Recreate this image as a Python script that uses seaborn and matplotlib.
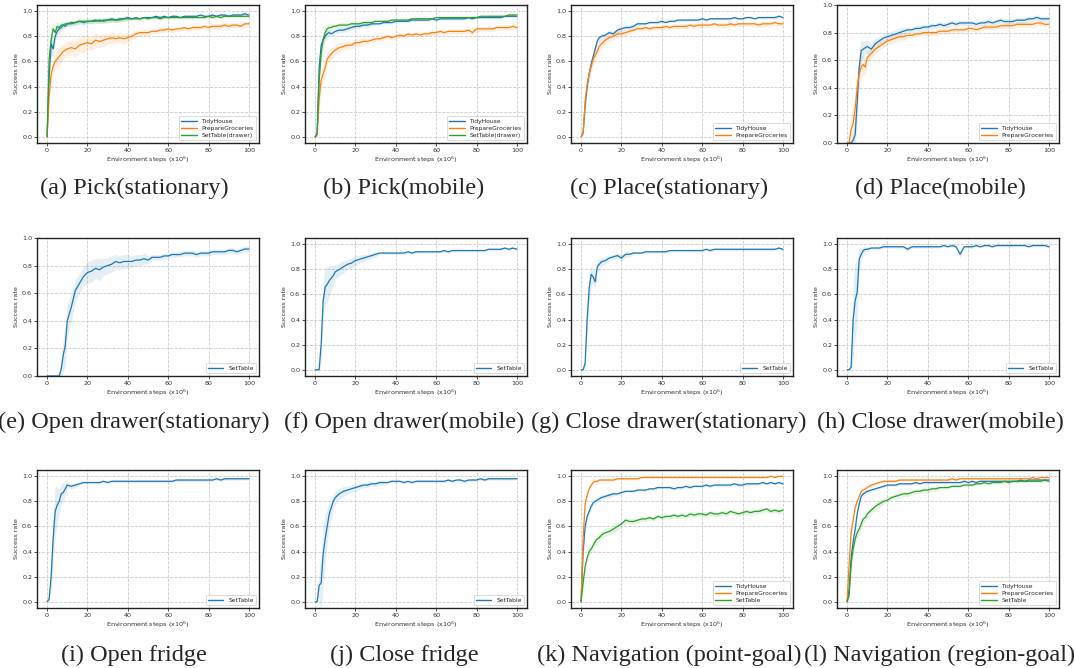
import pandas as pd
import seaborn as sns
import matplotlib.pyplot as plt

sns.set_theme(style="ticks")
plt.rcParams["font.family"] = ["DejaVu Sans"]

# x grid (environment steps, x10^6)
steps = [0, 1, 2, 3, 4, 5, 6, 7, 8, 9, 10,
         12, 14, 16, 18, 20, 22, 24, 26, 28, 30, 32, 34, 36, 38, 40,
         42, 44, 46, 48, 50, 52, 54, 56, 58, 60, 62, 64, 66, 68, 70,
         72, 74, 76, 78, 80, 82, 84, 86, 88, 90, 92, 94, 96, 98, 100]

# (a) Pick(stationary)
a_tidy = [0.00, 0.48, 0.74, 0.70, 0.80, 0.84, 0.86, 0.87, 0.89, 0.88, 0.90,
          0.90, 0.91, 0.92, 0.91, 0.92, 0.92, 0.93, 0.92, 0.93, 0.93, 0.94, 0.93, 0.94, 0.94, 0.95,
          0.94, 0.95, 0.94, 0.95, 0.95, 0.95, 0.96, 0.95, 0.96, 0.95, 0.96, 0.96, 0.95, 0.96, 0.96,
          0.96, 0.96, 0.97, 0.96, 0.96, 0.97, 0.96, 0.97, 0.97, 0.96, 0.97, 0.97, 0.97, 0.98, 0.97]
a_groc = [0.00, 0.32, 0.50, 0.56, 0.60, 0.62, 0.64, 0.66, 0.68, 0.69, 0.70,
          0.71, 0.70, 0.73, 0.74, 0.75, 0.74, 0.77, 0.76, 0.77, 0.78, 0.79, 0.78, 0.79, 0.78, 0.79,
          0.80, 0.82, 0.83, 0.83, 0.83, 0.84, 0.84, 0.85, 0.85, 0.86, 0.85, 0.86, 0.86, 0.87, 0.86,
          0.87, 0.87, 0.87, 0.88, 0.87, 0.88, 0.88, 0.88, 0.89, 0.88, 0.89, 0.89, 0.88, 0.90, 0.90]
a_set = [0.00, 0.62, 0.77, 0.86, 0.83, 0.88, 0.87, 0.89, 0.89, 0.90, 0.90,
         0.91, 0.91, 0.92, 0.92, 0.92, 0.92, 0.92, 0.93, 0.92, 0.93, 0.93, 0.93, 0.93, 0.94, 0.94,
         0.94, 0.94, 0.94, 0.95, 0.94, 0.95, 0.95, 0.94, 0.95, 0.95, 0.95, 0.95, 0.95, 0.95, 0.95,
         0.95, 0.95, 0.95, 0.95, 0.96, 0.95, 0.96, 0.95, 0.96, 0.96, 0.96, 0.96, 0.96, 0.96, 0.96]
a_tidy_band = [0.00, 0.12, 0.10, 0.06, 0.05, 0.04, 0.03, 0.03, 0.02, 0.02, 0.02,
               0.02, 0.02, 0.02, 0.02, 0.02, 0.02, 0.02, 0.02, 0.02, 0.02, 0.02, 0.02, 0.02, 0.02, 0.02,
               0.01, 0.01, 0.01, 0.01, 0.01, 0.01, 0.01, 0.01, 0.01, 0.01, 0.01, 0.01, 0.01, 0.01, 0.01,
               0.01, 0.01, 0.01, 0.01, 0.01, 0.01, 0.01, 0.01, 0.01, 0.01, 0.01, 0.01, 0.01, 0.01, 0.01]
a_groc_band = [0.00, 0.06, 0.06, 0.06, 0.07, 0.07, 0.07, 0.07, 0.06, 0.06, 0.06,
               0.06, 0.07, 0.06, 0.07, 0.06, 0.05, 0.06, 0.05, 0.05, 0.04, 0.05, 0.04, 0.04, 0.04, 0.04,
               0.03, 0.03, 0.03, 0.03, 0.02, 0.02, 0.02, 0.02, 0.02, 0.02, 0.02, 0.02, 0.02, 0.02, 0.02,
               0.02, 0.02, 0.02, 0.02, 0.02, 0.02, 0.02, 0.02, 0.02, 0.02, 0.02, 0.02, 0.02, 0.02, 0.02]
a_set_band = [0.00, 0.15, 0.10, 0.06, 0.05, 0.04, 0.03, 0.03, 0.03, 0.02, 0.02,
              0.02, 0.02, 0.02, 0.02, 0.02, 0.02, 0.02, 0.02, 0.02, 0.02, 0.02, 0.02, 0.02, 0.02, 0.02,
              0.01, 0.01, 0.01, 0.01, 0.01, 0.01, 0.01, 0.01, 0.01, 0.01, 0.01, 0.01, 0.01, 0.01, 0.01,
              0.01, 0.01, 0.01, 0.01, 0.01, 0.01, 0.01, 0.01, 0.01, 0.01, 0.01, 0.01, 0.01, 0.01, 0.01]

# (b) Pick(mobile)
b_tidy = [0.00, 0.02, 0.55, 0.73, 0.77, 0.80, 0.82, 0.83, 0.82, 0.83, 0.84,
          0.85, 0.85, 0.86, 0.87, 0.88, 0.88, 0.89, 0.89, 0.90, 0.90, 0.90, 0.91, 0.91, 0.91, 0.92,
          0.92, 0.92, 0.92, 0.93, 0.93, 0.93, 0.93, 0.93, 0.94, 0.93, 0.94, 0.94, 0.94, 0.94, 0.94,
          0.94, 0.94, 0.95, 0.94, 0.95, 0.95, 0.95, 0.95, 0.95, 0.95, 0.95, 0.96, 0.96, 0.96, 0.96]
b_groc = [0.00, 0.02, 0.30, 0.45, 0.50, 0.55, 0.62, 0.64, 0.66, 0.68, 0.69,
          0.71, 0.72, 0.73, 0.73, 0.75, 0.75, 0.76, 0.76, 0.77, 0.78, 0.78, 0.79, 0.80, 0.79, 0.80,
          0.81, 0.80, 0.82, 0.81, 0.82, 0.81, 0.82, 0.82, 0.83, 0.83, 0.84, 0.83, 0.84, 0.84, 0.84,
          0.84, 0.84, 0.85, 0.83, 0.86, 0.86, 0.86, 0.86, 0.86, 0.87, 0.87, 0.87, 0.87, 0.88, 0.87]
b_set = [0.00, 0.02, 0.45, 0.66, 0.78, 0.83, 0.86, 0.87, 0.87, 0.88, 0.88,
         0.89, 0.89, 0.89, 0.90, 0.90, 0.90, 0.91, 0.91, 0.91, 0.92, 0.92, 0.92, 0.92, 0.93, 0.93,
         0.93, 0.93, 0.93, 0.94, 0.94, 0.94, 0.94, 0.94, 0.94, 0.95, 0.95, 0.95, 0.95, 0.95, 0.95,
         0.95, 0.95, 0.95, 0.95, 0.95, 0.96, 0.96, 0.96, 0.96, 0.96, 0.96, 0.96, 0.97, 0.97, 0.97]
b_tidy_band = [0.00, 0.02, 0.10, 0.05, 0.04, 0.03, 0.03, 0.02, 0.02, 0.02, 0.02,
               0.02, 0.02, 0.02, 0.02, 0.02, 0.02, 0.02, 0.02, 0.02, 0.01, 0.01, 0.01, 0.01, 0.01, 0.01,
               0.01, 0.01, 0.01, 0.01, 0.01, 0.01, 0.01, 0.01, 0.01, 0.01, 0.01, 0.01, 0.01, 0.01, 0.01,
               0.01, 0.01, 0.01, 0.01, 0.01, 0.01, 0.01, 0.01, 0.01, 0.01, 0.01, 0.01, 0.01, 0.01, 0.01]
b_groc_band = [0.00, 0.02, 0.08, 0.07, 0.06, 0.06, 0.05, 0.05, 0.05, 0.04, 0.04,
               0.04, 0.03, 0.03, 0.03, 0.03, 0.03, 0.03, 0.02, 0.02, 0.02, 0.02, 0.02, 0.02, 0.02, 0.02,
               0.02, 0.02, 0.02, 0.02, 0.02, 0.02, 0.02, 0.02, 0.02, 0.02, 0.02, 0.02, 0.02, 0.02, 0.02,
               0.02, 0.02, 0.02, 0.02, 0.02, 0.02, 0.02, 0.02, 0.02, 0.02, 0.02, 0.02, 0.02, 0.02, 0.02]
b_set_band = [0.00, 0.02, 0.12, 0.08, 0.06, 0.05, 0.04, 0.03, 0.03, 0.02, 0.02,
              0.02, 0.02, 0.02, 0.02, 0.02, 0.02, 0.02, 0.02, 0.02, 0.01, 0.01, 0.01, 0.01, 0.01, 0.01,
              0.01, 0.01, 0.01, 0.01, 0.01, 0.01, 0.01, 0.01, 0.01, 0.01, 0.01, 0.01, 0.01, 0.01, 0.01,
              0.01, 0.01, 0.01, 0.01, 0.01, 0.01, 0.01, 0.01, 0.01, 0.01, 0.01, 0.01, 0.01, 0.01, 0.01]

# (c) Place(stationary)
c_tidy = [0.00, 0.03, 0.25, 0.40, 0.50, 0.58, 0.64, 0.70, 0.76, 0.79, 0.80,
          0.81, 0.83, 0.82, 0.85, 0.86, 0.87, 0.87, 0.88, 0.90, 0.90, 0.90, 0.91, 0.91, 0.91, 0.92,
          0.91, 0.92, 0.92, 0.93, 0.93, 0.93, 0.93, 0.93, 0.93, 0.94, 0.93, 0.94, 0.94, 0.94, 0.94,
          0.94, 0.94, 0.95, 0.94, 0.94, 0.95, 0.95, 0.94, 0.95, 0.95, 0.95, 0.95, 0.95, 0.96, 0.95]
c_groc = [0.00, 0.03, 0.28, 0.42, 0.50, 0.56, 0.62, 0.65, 0.68, 0.72, 0.74,
          0.77, 0.79, 0.80, 0.82, 0.82, 0.83, 0.84, 0.85, 0.86, 0.86, 0.87, 0.86, 0.87, 0.87, 0.87,
          0.88, 0.87, 0.88, 0.88, 0.88, 0.88, 0.89, 0.88, 0.89, 0.89, 0.89, 0.89, 0.90, 0.89, 0.89,
          0.89, 0.90, 0.89, 0.90, 0.90, 0.90, 0.90, 0.90, 0.89, 0.90, 0.90, 0.90, 0.91, 0.90, 0.90]
c_tidy_band = [0.00, 0.02, 0.04, 0.04, 0.04, 0.04, 0.04, 0.03, 0.03, 0.03, 0.02,
               0.02, 0.02, 0.02, 0.02, 0.02, 0.02, 0.02, 0.02, 0.02, 0.01, 0.01, 0.01, 0.01, 0.01, 0.01,
               0.01, 0.01, 0.01, 0.01, 0.01, 0.01, 0.01, 0.01, 0.01, 0.01, 0.01, 0.01, 0.01, 0.01, 0.01,
               0.01, 0.01, 0.01, 0.01, 0.01, 0.01, 0.01, 0.01, 0.01, 0.01, 0.01, 0.01, 0.01, 0.01, 0.01]
c_groc_band = [0.00, 0.02, 0.05, 0.06, 0.06, 0.06, 0.05, 0.05, 0.04, 0.04, 0.04,
               0.03, 0.03, 0.03, 0.03, 0.03, 0.02, 0.02, 0.02, 0.02, 0.02, 0.02, 0.02, 0.02, 0.02, 0.02,
               0.02, 0.02, 0.02, 0.02, 0.02, 0.02, 0.02, 0.02, 0.02, 0.02, 0.02, 0.02, 0.02, 0.02, 0.02,
               0.02, 0.02, 0.02, 0.02, 0.02, 0.02, 0.02, 0.02, 0.02, 0.02, 0.02, 0.02, 0.02, 0.02, 0.02]

# (d) Place(mobile)
d_tidy = [0.00, 0.00, 0.00, 0.02, 0.06, 0.30, 0.55, 0.67, 0.68, 0.69, 0.70,
          0.68, 0.72, 0.74, 0.76, 0.77, 0.78, 0.79, 0.80, 0.81, 0.82, 0.82, 0.83, 0.83, 0.84, 0.84,
          0.85, 0.85, 0.86, 0.85, 0.86, 0.87, 0.86, 0.87, 0.87, 0.87, 0.87, 0.86, 0.87, 0.87, 0.88,
          0.87, 0.88, 0.89, 0.88, 0.88, 0.88, 0.89, 0.89, 0.89, 0.90, 0.90, 0.91, 0.90, 0.90, 0.90]
d_groc = [0.00, 0.00, 0.10, 0.14, 0.25, 0.40, 0.50, 0.55, 0.57, 0.55, 0.62,
          0.65, 0.68, 0.70, 0.72, 0.74, 0.75, 0.76, 0.77, 0.77, 0.78, 0.78, 0.79, 0.79, 0.80, 0.80,
          0.80, 0.80, 0.81, 0.81, 0.81, 0.82, 0.82, 0.82, 0.82, 0.83, 0.83, 0.82, 0.83, 0.84, 0.84,
          0.84, 0.84, 0.85, 0.85, 0.85, 0.85, 0.86, 0.86, 0.86, 0.86, 0.86, 0.87, 0.87, 0.86, 0.86]
d_tidy_band = [0.00, 0.00, 0.02, 0.05, 0.10, 0.15, 0.12, 0.08, 0.06, 0.05, 0.05,
               0.04, 0.04, 0.03, 0.03, 0.03, 0.03, 0.03, 0.03, 0.03, 0.02, 0.02, 0.02, 0.02, 0.02, 0.02,
               0.02, 0.02, 0.02, 0.02, 0.02, 0.02, 0.02, 0.02, 0.02, 0.02, 0.02, 0.02, 0.02, 0.02, 0.02,
               0.02, 0.02, 0.02, 0.02, 0.02, 0.02, 0.02, 0.02, 0.02, 0.02, 0.02, 0.02, 0.02, 0.02, 0.02]
d_groc_band = [0.00, 0.02, 0.10, 0.12, 0.14, 0.12, 0.10, 0.08, 0.07, 0.06, 0.05,
               0.04, 0.04, 0.03, 0.03, 0.03, 0.03, 0.03, 0.03, 0.03, 0.02, 0.02, 0.02, 0.02, 0.02, 0.02,
               0.02, 0.02, 0.02, 0.02, 0.02, 0.02, 0.02, 0.02, 0.02, 0.02, 0.02, 0.02, 0.02, 0.02, 0.02,
               0.02, 0.02, 0.02, 0.02, 0.02, 0.02, 0.02, 0.02, 0.02, 0.02, 0.02, 0.02, 0.02, 0.02, 0.02]

# (e) Open drawer(stationary)
e_set = [0.00, 0.00, 0.00, 0.00, 0.00, 0.00, 0.00, 0.05, 0.15, 0.22, 0.40,
         0.50, 0.62, 0.67, 0.72, 0.75, 0.76, 0.78, 0.77, 0.79, 0.80, 0.81, 0.83, 0.82, 0.83, 0.83,
         0.83, 0.84, 0.84, 0.85, 0.84, 0.86, 0.86, 0.86, 0.87, 0.87, 0.88, 0.88, 0.88, 0.89, 0.89,
         0.89, 0.88, 0.89, 0.89, 0.89, 0.90, 0.90, 0.90, 0.90, 0.91, 0.91, 0.90, 0.91, 0.92, 0.92]
e_set_band = [0.00, 0.00, 0.00, 0.00, 0.00, 0.00, 0.02, 0.08, 0.12, 0.15, 0.12,
              0.10, 0.08, 0.07, 0.07, 0.08, 0.08, 0.07, 0.08, 0.06, 0.06, 0.06, 0.05, 0.05, 0.05, 0.05,
              0.04, 0.04, 0.04, 0.04, 0.03, 0.02, 0.02, 0.02, 0.02, 0.02, 0.02, 0.02, 0.02, 0.02, 0.02,
              0.02, 0.02, 0.02, 0.02, 0.02, 0.02, 0.02, 0.02, 0.02, 0.02, 0.02, 0.02, 0.02, 0.02, 0.02]

# (f) Open drawer(mobile)
f_set = [0.00, 0.00, 0.00, 0.20, 0.55, 0.66, 0.68, 0.71, 0.73, 0.75, 0.78,
         0.80, 0.82, 0.84, 0.85, 0.87, 0.88, 0.89, 0.90, 0.91, 0.92, 0.93, 0.93, 0.93, 0.93, 0.93,
         0.93, 0.93, 0.94, 0.93, 0.94, 0.94, 0.94, 0.94, 0.94, 0.94, 0.94, 0.95, 0.94, 0.95, 0.95,
         0.95, 0.95, 0.95, 0.95, 0.95, 0.95, 0.95, 0.96, 0.96, 0.96, 0.96, 0.97, 0.96, 0.97, 0.96]
f_set_band = [0.00, 0.00, 0.02, 0.12, 0.15, 0.15, 0.14, 0.12, 0.10, 0.08, 0.06,
              0.05, 0.05, 0.04, 0.04, 0.04, 0.03, 0.03, 0.02, 0.02, 0.02, 0.01, 0.01, 0.01, 0.01, 0.01,
              0.01, 0.01, 0.01, 0.01, 0.01, 0.01, 0.01, 0.01, 0.01, 0.01, 0.01, 0.01, 0.01, 0.01, 0.01,
              0.01, 0.01, 0.01, 0.01, 0.01, 0.01, 0.01, 0.01, 0.01, 0.01, 0.01, 0.01, 0.01, 0.01, 0.01]

# (g) Close drawer(stationary)
g_set = [0.00, 0.00, 0.05, 0.40, 0.65, 0.76, 0.74, 0.70, 0.82, 0.84, 0.86,
         0.87, 0.89, 0.90, 0.91, 0.89, 0.92, 0.92, 0.93, 0.93, 0.93, 0.94, 0.94, 0.94, 0.94, 0.94,
         0.94, 0.95, 0.95, 0.95, 0.95, 0.95, 0.95, 0.95, 0.95, 0.95, 0.96, 0.95, 0.96, 0.96, 0.96,
         0.96, 0.96, 0.96, 0.96, 0.96, 0.96, 0.96, 0.96, 0.96, 0.96, 0.96, 0.96, 0.96, 0.97, 0.96]
g_set_band = [0.00, 0.00, 0.04, 0.10, 0.10, 0.08, 0.06, 0.06, 0.05, 0.04, 0.03,
              0.03, 0.02, 0.02, 0.02, 0.03, 0.02, 0.02, 0.01, 0.01, 0.01, 0.01, 0.01, 0.01, 0.01, 0.01,
              0.01, 0.01, 0.01, 0.01, 0.01, 0.01, 0.01, 0.01, 0.01, 0.01, 0.01, 0.01, 0.01, 0.01, 0.01,
              0.01, 0.01, 0.01, 0.01, 0.01, 0.01, 0.01, 0.01, 0.01, 0.01, 0.01, 0.01, 0.01, 0.01, 0.01]

# (h) Close drawer(mobile)
h_set = [0.00, 0.00, 0.02, 0.40, 0.55, 0.62, 0.88, 0.92, 0.95, 0.96, 0.96,
         0.97, 0.97, 0.97, 0.98, 0.98, 0.98, 0.98, 0.98, 0.98, 0.96, 0.98, 0.98, 0.98, 0.98, 0.98,
         0.98, 0.98, 0.98, 0.99, 0.98, 0.99, 0.98, 0.92, 0.98, 0.98, 0.98, 0.99, 0.98, 0.99, 0.99,
         0.98, 0.99, 0.99, 0.99, 0.99, 0.99, 0.99, 0.99, 0.99, 0.98, 0.99, 0.99, 0.99, 0.99, 0.98]
h_set_band = [0.00, 0.00, 0.05, 0.30, 0.30, 0.25, 0.10, 0.05, 0.03, 0.02, 0.02,
              0.01, 0.01, 0.01, 0.01, 0.01, 0.01, 0.01, 0.01, 0.01, 0.02, 0.01, 0.01, 0.01, 0.01, 0.01,
              0.01, 0.01, 0.01, 0.01, 0.01, 0.01, 0.01, 0.03, 0.01, 0.01, 0.01, 0.01, 0.01, 0.01, 0.01,
              0.01, 0.01, 0.01, 0.01, 0.01, 0.01, 0.01, 0.01, 0.01, 0.01, 0.01, 0.01, 0.01, 0.01, 0.01]

# (i) Open fridge
i_set = [0.00, 0.02, 0.20, 0.50, 0.72, 0.77, 0.80, 0.86, 0.87, 0.90, 0.93,
         0.92, 0.93, 0.94, 0.95, 0.95, 0.95, 0.95, 0.95, 0.96, 0.95, 0.96, 0.96, 0.96, 0.96, 0.96,
         0.96, 0.96, 0.96, 0.96, 0.96, 0.96, 0.96, 0.96, 0.96, 0.96, 0.96, 0.97, 0.97, 0.97, 0.97,
         0.97, 0.97, 0.97, 0.97, 0.97, 0.97, 0.98, 0.97, 0.98, 0.98, 0.98, 0.98, 0.98, 0.98, 0.98]
i_set_band = [0.00, 0.02, 0.10, 0.20, 0.20, 0.15, 0.10, 0.08, 0.08, 0.04, 0.02,
              0.02, 0.02, 0.01, 0.01, 0.01, 0.01, 0.01, 0.01, 0.01, 0.01, 0.01, 0.01, 0.01, 0.01, 0.01,
              0.01, 0.01, 0.01, 0.01, 0.01, 0.01, 0.01, 0.01, 0.01, 0.01, 0.01, 0.01, 0.01, 0.01, 0.01,
              0.01, 0.01, 0.01, 0.01, 0.01, 0.01, 0.01, 0.01, 0.01, 0.01, 0.01, 0.01, 0.01, 0.01, 0.01]

# (j) Close fridge
j_set = [0.00, 0.00, 0.13, 0.15, 0.38, 0.50, 0.60, 0.70, 0.75, 0.80, 0.83,
         0.86, 0.88, 0.89, 0.90, 0.91, 0.92, 0.93, 0.93, 0.94, 0.94, 0.95, 0.95, 0.95, 0.96, 0.96,
         0.96, 0.95, 0.96, 0.95, 0.96, 0.96, 0.96, 0.96, 0.96, 0.96, 0.96, 0.96, 0.97, 0.96, 0.97,
         0.97, 0.96, 0.97, 0.97, 0.97, 0.98, 0.97, 0.98, 0.98, 0.98, 0.98, 0.98, 0.98, 0.98, 0.98]
j_set_band = [0.00, 0.00, 0.10, 0.25, 0.25, 0.20, 0.15, 0.10, 0.08, 0.06, 0.05,
              0.04, 0.04, 0.03, 0.03, 0.03, 0.02, 0.02, 0.02, 0.02, 0.02, 0.02, 0.02, 0.01, 0.01, 0.01,
              0.01, 0.01, 0.01, 0.01, 0.01, 0.01, 0.01, 0.01, 0.01, 0.01, 0.01, 0.01, 0.01, 0.01, 0.01,
              0.01, 0.01, 0.01, 0.01, 0.01, 0.01, 0.01, 0.01, 0.01, 0.01, 0.01, 0.01, 0.01, 0.01, 0.01]

# (k) Navigation (point-goal)
k_tidy = [0.00, 0.40, 0.60, 0.68, 0.72, 0.76, 0.79, 0.80, 0.81, 0.82, 0.83,
          0.84, 0.85, 0.86, 0.86, 0.87, 0.88, 0.88, 0.88, 0.89, 0.89, 0.89, 0.90, 0.90, 0.91, 0.91,
          0.91, 0.91, 0.90, 0.91, 0.91, 0.92, 0.91, 0.92, 0.92, 0.92, 0.93, 0.92, 0.93, 0.93, 0.93,
          0.93, 0.93, 0.94, 0.93, 0.93, 0.94, 0.94, 0.94, 0.94, 0.95, 0.94, 0.95, 0.94, 0.95, 0.94]
k_groc = [0.00, 0.50, 0.78, 0.85, 0.90, 0.93, 0.95, 0.96, 0.96, 0.97, 0.97,
          0.97, 0.97, 0.97, 0.98, 0.98, 0.98, 0.98, 0.98, 0.98, 0.99, 0.99, 0.99, 0.99, 0.99, 0.99,
          0.99, 0.99, 0.99, 0.99, 0.99, 0.99, 0.99, 0.99, 0.99, 0.99, 0.99, 0.99, 0.99, 0.99, 0.99,
          0.99, 0.99, 0.99, 0.99, 0.99, 0.99, 0.99, 0.99, 0.99, 0.99, 0.99, 1.00, 0.99, 1.00, 1.00]
k_set = [0.00, 0.15, 0.28, 0.35, 0.40, 0.42, 0.45, 0.48, 0.50, 0.51, 0.53,
         0.55, 0.56, 0.58, 0.60, 0.62, 0.65, 0.64, 0.64, 0.65, 0.66, 0.66, 0.67, 0.66, 0.68, 0.67,
         0.68, 0.68, 0.69, 0.68, 0.69, 0.68, 0.70, 0.69, 0.70, 0.70, 0.69, 0.71, 0.70, 0.70, 0.71,
         0.70, 0.72, 0.71, 0.70, 0.71, 0.72, 0.71, 0.72, 0.72, 0.73, 0.74, 0.72, 0.73, 0.72, 0.73]
k_tidy_band = [0.00, 0.05, 0.04, 0.03, 0.03, 0.02, 0.02, 0.02, 0.02, 0.02, 0.02,
               0.02, 0.02, 0.02, 0.01, 0.01, 0.01, 0.01, 0.01, 0.01, 0.01, 0.01, 0.01, 0.01, 0.01, 0.01,
               0.01, 0.01, 0.01, 0.01, 0.01, 0.01, 0.01, 0.01, 0.01, 0.01, 0.01, 0.01, 0.01, 0.01, 0.01,
               0.01, 0.01, 0.01, 0.01, 0.01, 0.01, 0.01, 0.01, 0.01, 0.01, 0.01, 0.01, 0.01, 0.01, 0.01]
k_groc_band = [0.00, 0.04, 0.02, 0.01, 0.01, 0.01, 0.01, 0.01, 0.01, 0.01, 0.01,
               0.01, 0.01, 0.01, 0.01, 0.01, 0.01, 0.01, 0.01, 0.01, 0.00, 0.00, 0.00, 0.00, 0.00, 0.00,
               0.00, 0.00, 0.00, 0.00, 0.00, 0.00, 0.00, 0.00, 0.00, 0.00, 0.00, 0.00, 0.00, 0.00, 0.00,
               0.00, 0.00, 0.00, 0.00, 0.00, 0.00, 0.00, 0.00, 0.00, 0.00, 0.00, 0.00, 0.00, 0.00, 0.00]
k_set_band = [0.00, 0.03, 0.03, 0.03, 0.03, 0.03, 0.03, 0.03, 0.03, 0.03, 0.03,
              0.03, 0.03, 0.03, 0.03, 0.02, 0.02, 0.02, 0.02, 0.02, 0.02, 0.02, 0.02, 0.02, 0.02, 0.02,
              0.02, 0.02, 0.02, 0.02, 0.02, 0.02, 0.02, 0.02, 0.02, 0.02, 0.02, 0.02, 0.02, 0.02, 0.02,
              0.02, 0.02, 0.02, 0.02, 0.02, 0.02, 0.02, 0.02, 0.02, 0.02, 0.02, 0.02, 0.02, 0.02, 0.02]

# (l) Navigation (region-goal)
l_tidy = [0.00, 0.10, 0.35, 0.48, 0.58, 0.70, 0.78, 0.84, 0.86, 0.87, 0.88,
          0.89, 0.90, 0.91, 0.92, 0.93, 0.93, 0.93, 0.94, 0.94, 0.94, 0.94, 0.95, 0.94, 0.95, 0.95,
          0.95, 0.95, 0.95, 0.95, 0.95, 0.95, 0.95, 0.95, 0.96, 0.95, 0.96, 0.95, 0.96, 0.96, 0.96,
          0.96, 0.96, 0.96, 0.96, 0.96, 0.96, 0.96, 0.97, 0.96, 0.97, 0.97, 0.97, 0.97, 0.97, 0.97]
l_groc = [0.00, 0.30, 0.55, 0.65, 0.75, 0.80, 0.84, 0.88, 0.89, 0.90, 0.91,
          0.93, 0.94, 0.95, 0.96, 0.96, 0.96, 0.96, 0.97, 0.97, 0.97, 0.97, 0.97, 0.97, 0.97, 0.97,
          0.97, 0.97, 0.97, 0.97, 0.97, 0.98, 0.97, 0.98, 0.98, 0.98, 0.98, 0.98, 0.98, 0.98, 0.98,
          0.98, 0.98, 0.98, 0.98, 0.98, 0.98, 0.98, 0.98, 0.98, 0.98, 0.99, 0.98, 0.99, 0.99, 0.99]
l_set = [0.00, 0.05, 0.30, 0.42, 0.50, 0.55, 0.58, 0.62, 0.66, 0.67, 0.70,
         0.73, 0.76, 0.78, 0.80, 0.81, 0.83, 0.84, 0.85, 0.86, 0.86, 0.87, 0.88, 0.88, 0.89, 0.89,
         0.90, 0.90, 0.91, 0.91, 0.91, 0.92, 0.92, 0.92, 0.93, 0.93, 0.93, 0.94, 0.94, 0.95, 0.94,
         0.95, 0.95, 0.95, 0.96, 0.95, 0.96, 0.96, 0.96, 0.96, 0.96, 0.96, 0.96, 0.96, 0.97, 0.96]
l_tidy_band = [0.00, 0.04, 0.05, 0.04, 0.04, 0.03, 0.03, 0.02, 0.02, 0.02, 0.02,
               0.01, 0.01, 0.01, 0.01, 0.01, 0.01, 0.01, 0.01, 0.01, 0.01, 0.01, 0.01, 0.01, 0.01, 0.01,
               0.01, 0.01, 0.01, 0.01, 0.01, 0.01, 0.01, 0.01, 0.01, 0.01, 0.01, 0.01, 0.01, 0.01, 0.01,
               0.01, 0.01, 0.01, 0.01, 0.01, 0.01, 0.01, 0.01, 0.01, 0.01, 0.01, 0.01, 0.01, 0.01, 0.01]
l_groc_band = [0.00, 0.04, 0.04, 0.03, 0.02, 0.02, 0.02, 0.01, 0.01, 0.01, 0.01,
               0.01, 0.01, 0.01, 0.01, 0.01, 0.01, 0.01, 0.01, 0.01, 0.01, 0.01, 0.01, 0.01, 0.01, 0.01,
               0.01, 0.01, 0.01, 0.01, 0.01, 0.01, 0.01, 0.01, 0.01, 0.01, 0.01, 0.01, 0.01, 0.01, 0.01,
               0.01, 0.01, 0.01, 0.01, 0.01, 0.01, 0.01, 0.01, 0.01, 0.01, 0.01, 0.01, 0.01, 0.01, 0.01]
l_set_band = [0.00, 0.03, 0.05, 0.05, 0.04, 0.04, 0.04, 0.04, 0.03, 0.03, 0.03,
              0.03, 0.03, 0.03, 0.02, 0.02, 0.02, 0.02, 0.02, 0.02, 0.02, 0.02, 0.02, 0.02, 0.02, 0.02,
              0.02, 0.02, 0.01, 0.01, 0.01, 0.01, 0.01, 0.01, 0.01, 0.01, 0.01, 0.01, 0.01, 0.01, 0.01,
              0.01, 0.01, 0.01, 0.01, 0.01, 0.01, 0.01, 0.01, 0.01, 0.01, 0.01, 0.01, 0.01, 0.01, 0.01]

captions = ["(a) Pick(stationary)", "(b) Pick(mobile)", "(c) Place(stationary)", "(d) Place(mobile)",
            "(e) Open drawer(stationary)", "(f) Open drawer(mobile)",
            "(g) Close drawer(stationary)", "(h) Close drawer(mobile)",
            "(i) Open fridge", "(j) Close fridge",
            "(k) Navigation (point-goal)", "(l) Navigation (region-goal)"]

panels = [
    [("TidyHouse", a_tidy, a_tidy_band), ("PrepareGroceries", a_groc, a_groc_band),
     ("SetTable(drawer)", a_set, a_set_band)],
    [("TidyHouse", b_tidy, b_tidy_band), ("PrepareGroceries", b_groc, b_groc_band),
     ("SetTable(drawer)", b_set, b_set_band)],
    [("TidyHouse", c_tidy, c_tidy_band), ("PrepareGroceries", c_groc, c_groc_band)],
    [("TidyHouse", d_tidy, d_tidy_band), ("PrepareGroceries", d_groc, d_groc_band)],
    [("SetTable", e_set, e_set_band)],
    [("SetTable", f_set, f_set_band)],
    [("SetTable", g_set, g_set_band)],
    [("SetTable", h_set, h_set_band)],
    [("SetTable", i_set, i_set_band)],
    [("SetTable", j_set, j_set_band)],
    [("TidyHouse", k_tidy, k_tidy_band), ("PrepareGroceries", k_groc, k_groc_band),
     ("SetTable", k_set, k_set_band)],
    [("TidyHouse", l_tidy, l_tidy_band), ("PrepareGroceries", l_groc, l_groc_band),
     ("SetTable", l_set, l_set_band)],
]
zero_bottom = [3, 4]  # panels (d) and (e) start exactly at 0

W, H = 1075, 668
col_left = [37, 305, 571, 837]
row_top = [5, 238, 470]
ax_w, ax_h = 222, 138
cap_x = [134, 404, 669, 940]
cap_y = [188, 422, 655]

fig = plt.figure(figsize=(W / 100, H / 100), dpi=100)
tab = sns.color_palette("tab10")

for k, series in enumerate(panels):
    r, c = divmod(k, 4)
    ax = fig.add_axes([col_left[c] / W, 1 - (row_top[r] + ax_h) / H, ax_w / W, ax_h / H])

    # lower / mean / upper rows so seaborn draws the line and its band
    rows = []
    for name, vals, band in series:
        for x, v, b in zip(steps, vals, band):
            rows += [(name, x, v - b), (name, x, v), (name, x, v + b)]
    df = pd.DataFrame(rows, columns=["task", "step", "rate"])
    names = [s[0] for s in series]
    sns.lineplot(data=df, x="step", y="rate", hue="task", hue_order=names,
                 palette=tab[:len(names)], estimator="mean", errorbar=("pi", 100),
                 linewidth=0.9, err_kws={"alpha": 0.12, "linewidth": 0}, ax=ax)

    ax.set_xlim(-5, 105)
    ax.set_ylim((0, 1.0) if k in zero_bottom else (-0.05, 1.05))
    ax.set_xticks([0, 20, 40, 60, 80, 100])
    ax.set_yticks([0.0, 0.2, 0.4, 0.6, 0.8, 1.0])
    ax.set_yticklabels(["0.0", "0.2", "0.4", "0.6", "0.8", "1.0"])
    ax.tick_params(labelsize=4.6, length=2, width=0.6, pad=1.5, colors="#333333")
    ax.set_xlabel("Environment steps (x$10^6$)", fontsize=4.6, labelpad=1.5, color="#333333")
    ax.set_ylabel("Success rate", fontsize=4.6, labelpad=2, color="#333333")
    ax.grid(True, linestyle="--", color="#cccccc", linewidth=0.6)
    for sp in ax.spines.values():
        sp.set_color("#222222")
        sp.set_linewidth(1.0)

    sns.move_legend(ax, "lower right", title=None, fontsize=4.3, frameon=True,
                    handlelength=2.6, borderpad=0.4, labelspacing=0.3, handletextpad=0.8)
    leg = ax.get_legend()
    leg.get_frame().set_edgecolor("#cccccc")
    leg.get_frame().set_linewidth(0.6)
    for line in leg.get_lines():
        line.set_linewidth(1.0)

    fig.text(cap_x[c] / W, 1 - cap_y[r] / H, captions[k], ha="center", va="center",
             fontsize=17.5, family="Liberation Serif")

fig.savefig("out.png", dpi=100)
